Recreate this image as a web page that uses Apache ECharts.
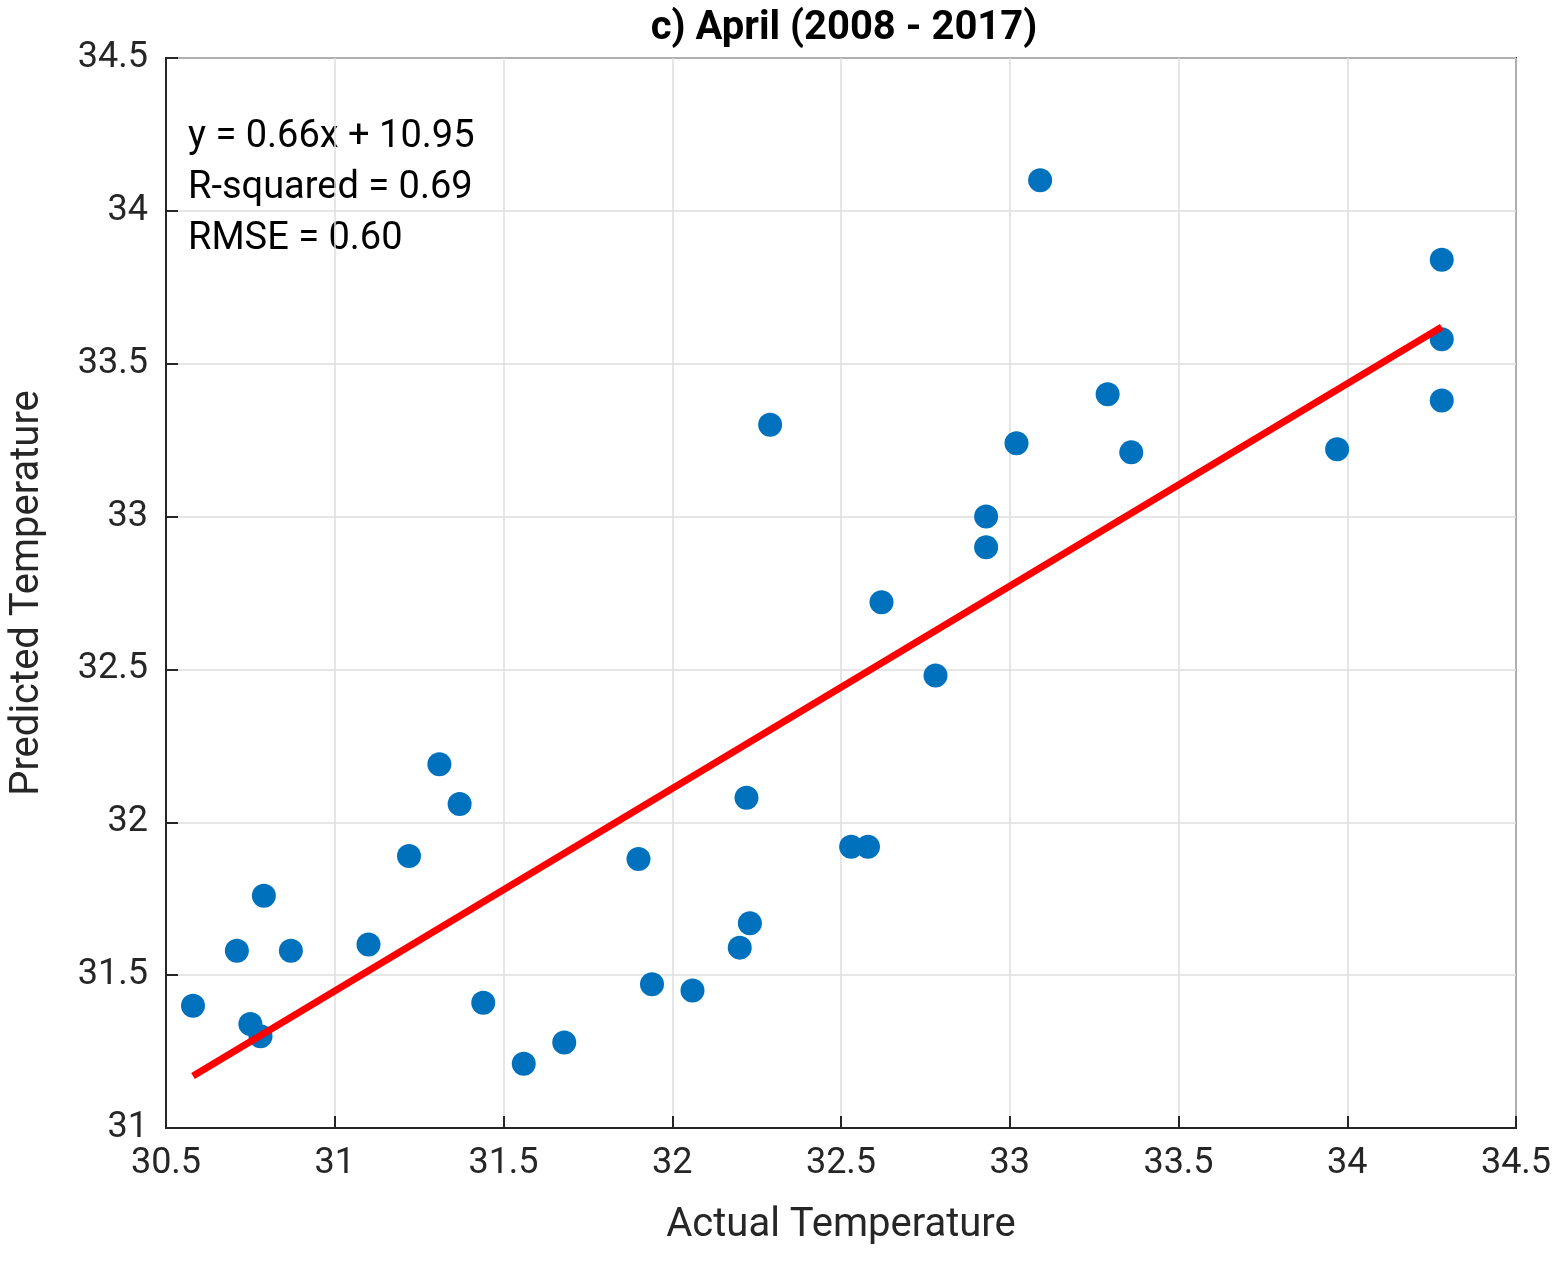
<!DOCTYPE html>
<html>
<head>
<meta charset="utf-8">
<script src="https://cdn.jsdelivr.net/npm/echarts@6/dist/echarts.min.js"></script>
<style>html,body{margin:0;background:#fff}#chart{width:1562px;height:1261px}</style>
</head>
<body>
<div id="chart"></div>
<script>
const actual = [30.58, 30.71, 30.75, 30.78, 30.79, 30.87, 31.10, 31.22, 31.31, 31.37, 31.44, 31.56, 31.68,
  31.90, 31.94, 32.06, 32.20, 32.22, 32.23, 32.29, 32.53, 32.58, 32.62, 32.78, 32.93, 32.93, 33.02, 33.09,
  33.29, 33.36, 33.97, 34.28, 34.28, 34.28];
const predicted = [31.40, 31.58, 31.34, 31.30, 31.76, 31.58, 31.60, 31.89, 32.19, 32.06, 31.41, 31.21, 31.28,
  31.88, 31.47, 31.45, 31.59, 32.08, 31.67, 33.30, 31.92, 31.92, 32.72, 32.48, 33.00, 32.90, 33.24, 34.10,
  33.40, 33.21, 33.22, 33.84, 33.58, 33.38];
const fitLine = [[30.58, 31.17], [34.28, 33.62]];
const statsText = ['y = 0.66x + 10.95', 'R-squared = 0.69', 'RMSE = 0.60'];

const font = 'Roboto, "Liberation Sans", Arial, sans-serif';
const chart = echarts.init(document.getElementById('chart'));
const axisCommon = {
  interval: 0.5,
  axisLine: { show: true, onZero: false, lineStyle: { color: '#262626', width: 2 } },
  axisTick: { show: true, inside: true, length: 12, lineStyle: { color: '#262626', width: 2 } },
  splitLine: { show: true, lineStyle: { color: '#dedede', width: 1.5 } },
  axisLabel: { color: '#262626', fontSize: 36, fontFamily: font },
  nameTextStyle: { color: '#262626', fontSize: 40, fontFamily: font }
};
chart.setOption({
  animation: false,
  backgroundColor: '#fff',
  title: {
    text: 'c) April (2008 - 2017)', left: 839, top: 4, textAlign: 'center',
    textStyle: { fontSize: 40, fontWeight: 'bold', fontFamily: font, color: '#000' }
  },
  grid: { left: 162, right: 46, top: 58, bottom: 133, show: true, borderColor: '#262626', borderWidth: 2 },
  graphic: [{
    type: 'text', left: 188, top: 112,
    style: { text: statsText.join('\n'), fontSize: 38, lineHeight: 51, fontFamily: font, fill: '#000' }
  }],
  xAxis: Object.assign({}, axisCommon, {
    type: 'value', min: 30.5, max: 34.5, name: 'Actual Temperature', nameLocation: 'middle', nameGap: 78,
    axisLabel: Object.assign({}, axisCommon.axisLabel, { margin: 18, formatter: v => String(+v.toFixed(1)) })
  }),
  yAxis: Object.assign({}, axisCommon, {
    type: 'value', min: 31, max: 34.5, name: 'Predicted Temperature', nameLocation: 'middle', nameGap: 118,
    axisLabel: Object.assign({}, axisCommon.axisLabel, { margin: 18, formatter: v => String(+v.toFixed(1)) })
  }),
  series: [
    {
      type: 'scatter', symbolSize: 24, itemStyle: { color: '#0072BD', opacity: 1 },
      data: actual.map((x, i) => [x, predicted[i]]), z: 3
    },
    {
      type: 'line', data: fitLine, showSymbol: false, symbol: 'none',
      lineStyle: { color: '#ff0000', width: 7 }, z: 4
    }
  ]
});
</script>
</body>
</html>
